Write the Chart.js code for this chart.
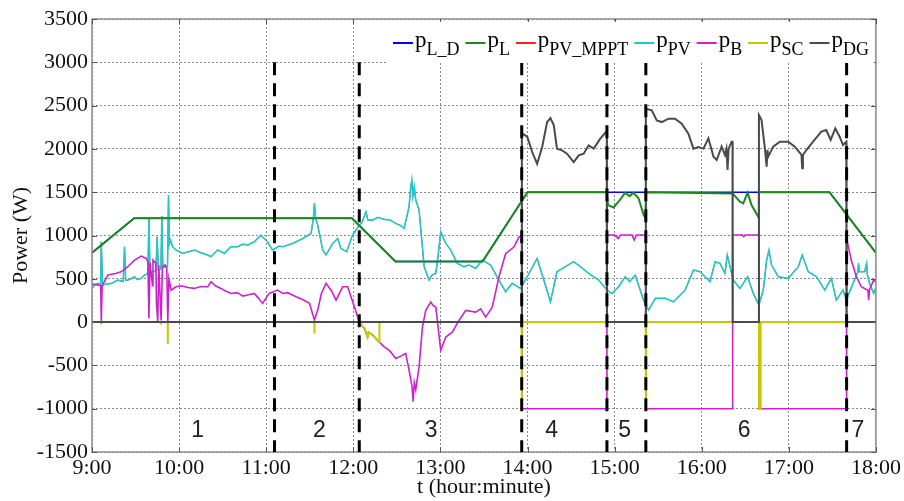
<!DOCTYPE html>
<html>
<head>
<meta charset="utf-8">
<script src="https://cdn.jsdelivr.net/npm/chart.js@4.4.0/dist/chart.umd.min.js"></script>
<style>
  html, body { margin: 0; padding: 0; background: #fff; }
</style>
</head>
<body>
<canvas id="myChart" width="904" height="501"></canvas>
<script>
// time in minutes after 9:00, power in W
const loadT = [0, 29, 179, 209, 269, 300, 508, 540];
const loadW = [800, 1200, 1200, 700, 700, 1500, 1500, 800];

const plT = [0, 29, 179, 209, 269, 300, 354.7, 355.4, 359.3, 362.7, 367.3, 370.3, 373, 376.5, 380, 381.4, 381.5,
  441.3, 446.3, 448.6, 451.6, 454.3, 458.9, 459.3, 459.4, 508, 540];
const plW = [800, 1200, 1200, 700, 700, 1500, 1500, 1351, 1324, 1390, 1494, 1455, 1494, 1428, 1236, 1200, 1500,
  1486, 1390, 1371, 1494, 1351, 1216, 1200, 1500, 1500, 800];

const pvT = [0, 2, 4.1, 6, 6.4, 7.3, 10, 13.3, 17.9, 21.5, 22.4, 23.2, 24.7, 27, 29.3, 31, 33.9, 36.2, 38.5, 39.2, 40,
  41.5, 44, 44.9, 45.7, 46.3, 47.5, 48.1, 48.8, 50.4, 52, 52.7, 53.3, 54, 55.6, 57.9, 62.5, 66, 70.5, 75, 79.7, 82,
  86.6, 91.2, 95.7, 100.3, 104, 107.2, 111.8, 116.3, 120.9, 124.3, 129, 131.4, 138.3, 145.2, 150.9, 152.5, 153.2,
  154, 155.5, 158.9, 161.2, 165.8, 169.2, 171.5, 175.4, 179.5, 184.1, 186, 188.7, 190, 193.3, 197, 201.3, 205,
  209.3, 213, 215, 218.4, 219.5, 220.3, 221, 222, 223, 225.3, 228.8, 232.2, 234, 236.8, 238.5, 240.2, 243.7, 247.1,
  251.6, 256.2, 259.7, 264.3, 268.8, 274.6, 280.3, 284.9, 289.4, 295.2, 299.8, 306.6, 311.2, 315.8, 320.3, 326.1,
  331.8, 336.4, 342.1, 349, 354.7, 358.2, 362.7, 367.3, 370.3, 374.2, 379.9, 383.4, 388, 394.8, 400.5, 408.6, 414.3,
  418.9, 422.3, 425.7, 429.2, 432.6, 436, 437.6, 439.5, 441.7, 446.3, 451.6, 455.5, 459.4, 462.4, 464.7, 466.3,
  468.1, 472.7, 479.6, 486.5, 489.2, 493.4, 499.1, 504.8, 509.3, 512.7, 517.3, 519.6, 524.2, 527.6, 528, 528.5,
  532.2, 533.6, 534, 535.6, 538.4, 540];
const pvW = [389, 430, 447, 440, 927, 428, 440, 447, 485, 470, 870, 480, 485, 500, 524, 490, 505, 543, 560, 1190, 560,
  581, 590, 985, 600, 600, 620, 1224, 630, 639, 640, 1467, 900, 947, 870, 832, 793, 810, 832, 800, 774, 755,
  832, 793, 870, 870, 900, 889, 928, 1005, 928, 832, 878, 870, 908, 966, 1024, 1200, 1371,
  1200, 1120, 832, 774, 908, 966, 851, 813, 1005, 1120, 1150, 1274, 1180, 1178, 1210, 1186, 1180,
  1140, 1110, 1082, 1332, 1550, 1640, 1450, 1560, 1409, 1294, 640, 485, 540, 562, 780, 1043, 908, 832,
  678, 639, 659, 620, 716, 659, 485, 351, 447, 389, 524, 735, 485, 235, 582, 640,
  698, 640, 562, 485, 370, 331, 408, 524, 466, 543, 254, 139, 274, 274, 235, 370, 601,
  582, 524, 466, 697, 678, 562, 774, 640, 485, 389, 524, 331, 197, 370, 716, 832,
  659, 524, 505, 640, 774, 582, 524, 370, 505, 254, 370, 254, 447, 582, 678, 582,
  582, 678, 560, 447, 331, 400];

const batT = [0, 4, 6, 6.4, 7, 11, 16.3, 20, 24.7, 29.3, 33.9, 37.3, 38.5, 39.2, 40, 41.7, 42, 44, 44.4, 45.3, 46, 47.6,
  48.5, 50.4, 51.5, 52.2, 53, 54.5, 57.9, 61.3, 66, 70.5, 75, 79.7, 82, 85, 88.8, 92, 95.7, 100, 104, 107.2, 111.8,
  114.5, 117.5, 122, 127.8, 131.4, 134.7, 140.6, 145, 149.8, 153.2, 155.5, 158, 161.2, 165, 168.1, 172.7, 176.1,
  180.7, 184.1, 187.6, 189.8, 190.5, 193.3, 195.6, 197.4, 201.3, 205, 209.3, 213, 216.1, 218.4, 220.5, 221.2, 222,
  223, 225.3, 227.6, 229.9, 233.4, 235, 236.8, 237.9, 240.2, 243.7, 248.2, 252.8, 257.4, 264.3, 267.7, 271.2, 275.7,
  280.3, 284.9, 290.6, 294, 296, 296.1, 354.6, 354.7, 360, 362.5, 364, 372, 373.5, 375, 381.4, 381.5, 441.2, 441.3,
  448, 449, 450, 459.4, 459.5, 519.7, 519.8, 523, 526.5, 529.9, 533, 534.5, 535, 535.5, 538.4, 540];
const batW = [439, 430, 420, 0, 420, 543, 562, 581, 639, 716, 762, 735, 700, 46, 680, 420, 716, 680, 220, 0, 660, 20,
  640, 660, 620, 0, 500, 370, 408, 420, 400, 389, 410, 408, 466, 420, 389, 360, 331, 340, 300, 312, 331,
  280, 216, 331, 370, 331, 340, 293, 260, 216, 23, 139, 330, 447, 360, 254, 408, 408,
  177, 0, -73, -173, -116, -150, -189, -223, -285, -330, -420, -390, -362, -554, -750, -920, -700,
  -780, -516, -58, 135, 231, 190, 173, 19, -327, -173, -116, 19, 135, 116, 154, 58, 173,
  520, 790, 866, 982, 1000, -1000, -1000, 1005, 1005, 965, 1005, 1005, 947, 1005, 1005, -1000, -1000, 1005,
  1005, 985, 1005, 1005, -1000, -1000, 966, 716, 524, 408, 380, 370, 254, 370, 485, 460];

const scT = [0, 6.3, 6.4, 6.5, 47.5, 47.6, 47.7, 52.1, 52.2, 52.3, 153.1, 153.2, 153.3, 184.1, 187.6, 189.8, 190.5,
  193.3, 195.6, 197.4, 197.9, 198, 295.9, 296, 296.1, 381.4, 381.5, 381.6, 459.4, 459.5, 460.5, 460.6, 540];
const scW = [0, 0, -25, 0, 0, -15, 0, 0, -250, 0, 0, -131, 0, 0, -73, -173, -116,
  -150, -189, -223, -230, 0, 0, -1000, 0, 0, -1000, 0, 0, -1000, -1000, 0, 0];

const dgT = [0, 296, 296.1, 299.8, 303.2, 306.6, 310.1, 313.5, 315.8, 318.1, 320.3, 323.8, 327.2, 331.8, 335.3, 338.7,
  342.1, 345.6, 350.1, 354, 354.6, 354.7, 381.4, 381.5, 385.6, 389, 392.5, 397.1, 401.6, 406.2, 410.8, 414.3, 417.7,
  421.2, 424.6, 428.1, 430.3, 433.7, 436, 437, 437.8, 438.5, 440.6, 441.2, 441.3, 459.3, 459.4, 461.2, 463.5, 464.7,
  465.3, 465.8, 469.2, 473.8, 479.6, 484.1, 488.7, 489.2, 489.7, 492.1, 496.7, 502.4, 505.8, 508.8, 512, 515, 517.3,
  519.6, 519.7, 519.8, 540];
const dgW = [0, 0, 2179, 2140, 1964, 1829, 2022, 2310, 2356, 2272, 2003, 1983, 1945, 1848, 1926, 1945,
  2041, 2003, 2118, 2195, 2195, 0, 0, 2464, 2445, 2330, 2310, 2349, 2349, 2291, 2176, 2003, 2022,
  2003, 2122, 1910, 1872, 2026, 1930, 2000, 1757, 2000, 2083, 2083, 0, 0, 2391, 2333, 2006, 1795,
  1990, 1910, 2026, 2083, 2083, 2026, 1930, 1776, 1930, 1987, 2083, 2199, 2218, 2103, 2237, 2141, 2045,
  2083, 2083, 0, 0];

// operating mode boundaries and their labels
const boundaries = [125.7, 184.1, 296, 354.7, 381.5, 519.8];
const boundaryTop = 3000;
const regionNames = ['1', '2', '3', '4', '5', '6', '7'];
const regionLabelAt = [72.8, 156.6, 233.6, 316.7, 366.9, 449.3, 527.6];
const regionLabelW = -1250;

const seriesSubs = ['L_D', 'L', 'PV_MPPT', 'PV', 'B', 'SC', 'DG'];
const seriesColors = ['#0000ff', '#1a8a1a', '#ff2020', '#22c8c8', '#cc22cc', '#c8c800', '#4a4a4a'];

const toPoints = (ts, ws) => ts.map((t, i) => ({ x: t, y: ws[i] }));

const makeSet = (idx, pts, width, order) => ({
  label: 'p' + seriesSubs[idx],
  data: pts,
  borderColor: seriesColors[idx],
  backgroundColor: seriesColors[idx],
  borderWidth: width,
  pointRadius: 0,
  tension: 0,
  order: order,
});

const serif = '"Liberation Serif", "Times New Roman", serif';
const axisFont = { family: serif, size: 22 };

const overlay = {
  id: 'overlay',
  afterDatasetsDraw(chart) {
    const { ctx, chartArea: a, scales } = chart;
    const x = scales.x;
    const y = scales.y;
    ctx.save();

    // frame
    ctx.strokeStyle = '#8f8f8f';
    ctx.lineWidth = 1.5;
    ctx.strokeRect(a.left, a.top, a.right - a.left, a.bottom - a.top);

    // small inner ticks
    ctx.strokeStyle = '#555';
    ctx.lineWidth = 1;
    x.ticks.forEach((tk) => {
      const px = Math.round(x.getPixelForValue(tk.value)) + 0.5;
      ctx.beginPath();
      ctx.moveTo(px, a.bottom); ctx.lineTo(px, a.bottom - 5);
      ctx.moveTo(px, a.top); ctx.lineTo(px, a.top + 5);
      ctx.stroke();
    });
    y.ticks.forEach((tk) => {
      const py = Math.round(y.getPixelForValue(tk.value)) + 0.5;
      ctx.beginPath();
      ctx.moveTo(a.left, py); ctx.lineTo(a.left + 5, py);
      ctx.moveTo(a.right, py); ctx.lineTo(a.right - 5, py);
      ctx.stroke();
    });

    // dashed mode boundaries
    ctx.strokeStyle = '#000';
    ctx.lineWidth = 3;
    ctx.setLineDash([13, 8]);
    boundaries.forEach((t) => {
      const px = x.getPixelForValue(t);
      ctx.beginPath();
      ctx.moveTo(px, y.getPixelForValue(boundaryTop));
      ctx.lineTo(px, a.bottom);
      ctx.stroke();
    });
    ctx.setLineDash([]);

    // region numbers
    ctx.fillStyle = '#222';
    ctx.font = '23px "Liberation Sans", Arial, sans-serif';
    ctx.textAlign = 'center';
    ctx.textBaseline = 'middle';
    regionNames.forEach((n, i) => {
      ctx.fillText(n, x.getPixelForValue(regionLabelAt[i]), y.getPixelForValue(regionLabelW));
    });

    // legend with subscripts
    ctx.fillStyle = '#fff';
    ctx.fillRect(388, a.top + 3, a.right - 388 - 2, 41);
    const mainFont = '23px ' + serif;
    const subFont = '18px ' + serif;
    const baseY = 47;
    ctx.font = mainFont;
    const pW = ctx.measureText('p').width;
    ctx.font = subFont;
    const widths = seriesSubs.map((s) => 22 + pW + ctx.measureText(s).width);
    const x0 = 393;
    const x1 = 869;
    const gap = (x1 - x0 - widths.reduce((s, w) => s + w, 0)) / (widths.length - 1);
    let cx = x0;
    ctx.textAlign = 'left';
    ctx.textBaseline = 'alphabetic';
    seriesSubs.forEach((s, i) => {
      ctx.strokeStyle = seriesColors[i];
      ctx.lineWidth = 2;
      ctx.beginPath();
      ctx.moveTo(cx, baseY - 4);
      ctx.lineTo(cx + 20, baseY - 4);
      ctx.stroke();
      ctx.fillStyle = '#000';
      ctx.font = mainFont;
      ctx.fillText('p', cx + 22, baseY);
      ctx.font = subFont;
      ctx.fillText(s, cx + 22 + pW, baseY + 8);
      cx += widths[i] + gap;
    });

    ctx.restore();
  },
};

Chart.defaults.font.family = serif;
Chart.defaults.color = '#111';

const ctx = document.getElementById('myChart').getContext('2d');
const myChart = new Chart(ctx, {
  type: 'line',
  data: {
    datasets: [
      makeSet(0, toPoints(loadT, loadW), 1.5, 6),
      makeSet(1, toPoints(plT, plW), 2, 3),
      makeSet(2, toPoints(pvT, pvW), 1, 5),
      makeSet(3, toPoints(pvT, pvW), 1.6, 4),
      makeSet(4, toPoints(batT, batW), 1.6, 2),
      makeSet(5, toPoints(scT, scW), 2, 1),
      makeSet(6, toPoints(dgT, dgW), 2, 0),
    ],
  },
  options: {
    responsive: false,
    animation: false,
    layout: { padding: { top: 19, right: 26, bottom: 0, left: 0 } },
    plugins: {
      legend: { display: false },
      tooltip: { enabled: false },
    },
    scales: {
      x: {
        type: 'linear',
        min: 0,
        max: 540,
        afterFit: (scale) => { scale.height = 49; },
        ticks: {
          stepSize: 60,
          padding: 3,
          maxRotation: 0,
          font: axisFont,
          callback: (v) => (9 + v / 60) + ':00',
        },
        grid: { color: '#8a8a8a', lineWidth: 1, drawTicks: false },
        border: { display: false, dash: [2, 2] },
        title: { display: true, text: 't (hour:minute)', font: axisFont, padding: { top: 0, bottom: 1 } },
      },
      y: {
        min: -1500,
        max: 3500,
        afterFit: (scale) => { scale.width = 92; },
        ticks: {
          stepSize: 500,
          padding: 4,
          font: axisFont,
          callback: (v) => String(v),
        },
        grid: { color: '#8a8a8a', lineWidth: 1, drawTicks: false },
        border: { display: false, dash: [2, 2] },
        title: { display: true, text: 'Power (W)', font: axisFont, padding: { top: 8, bottom: 0 } },
      },
    },
  },
  plugins: [overlay],
});
</script>
</body>
</html>
